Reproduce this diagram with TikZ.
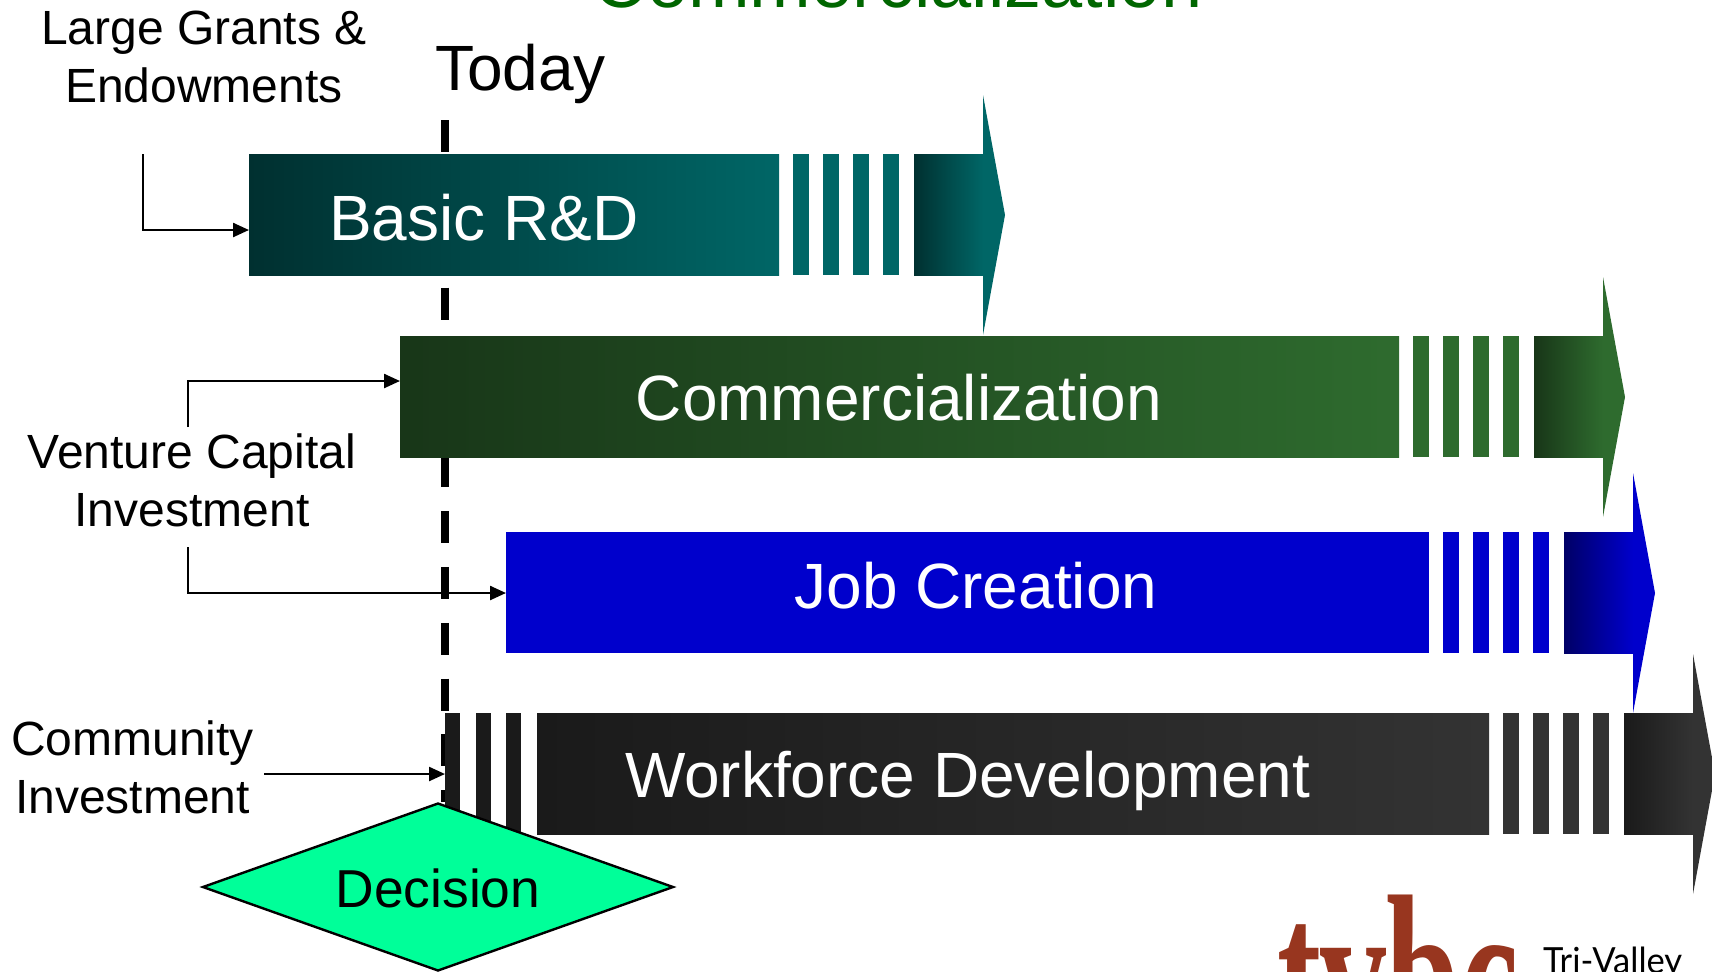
\documentclass[tikz,border=0pt]{standalone}
\usepackage{fontspec}
\setmainfont{Liberation Sans}
\newfontfamily\logoserif{Liberation Serif}
\newfontfamily\logosans{Lato}
\usetikzlibrary{arrows.meta,shapes.geometric,calc}
\definecolor{cTeal}{HTML}{006666}
\definecolor{cTealD}{HTML}{003030}
\definecolor{cGreen}{HTML}{2E6B2E}
\definecolor{cGreenD}{HTML}{183618}
\definecolor{cBlue}{HTML}{0000CC}
\definecolor{cBlueD}{HTML}{000066}
\definecolor{cGrey}{HTML}{333333}
\definecolor{cGreyD}{HTML}{1A1A1A}
\definecolor{cTitle}{HTML}{006600}
\definecolor{cDia}{HTML}{00FF99}
\definecolor{cLogo}{HTML}{98361F}
\tikzset{
  x=0.5pt,y=-0.5pt,
  boxpart/.style={anchor=north west,inner sep=0pt,outer sep=0pt,minimum height=60.6pt},
  stripebox/.style={boxpart,minimum width=8pt},
  shaftbox/.style={boxpart,minimum width=34.5pt},
  txt/.style={inner sep=0pt,outer sep=0pt,anchor=base,font=\fontsize{#1}{29}\selectfont},
  bartxt/.style={txt=32,text=white},
  lbl/.style={txt=24,text=black,align=center},
  conn/.style={black,line width=1.2pt,-{Triangle[length=8pt,width=7pt]}},
  todayline/.style={black,line width=4pt,dash pattern=on 16pt off 11.93pt}
}
\newcommand{\barend}[5]{%
  \foreach \k [count=\n] in {14,44,74,104}
    \node[stripebox,fill=#4] (#1s\n) at (#2+\k,#3) {};
  \node[shaftbox,left color=#5,right color=#4] (#1a) at (#2+135,#3) {};
  \fill[#4] (#2+204,#3-59) -- (#2+226,#3+61) -- (#2+204,#3+181) -- cycle;
}
\begin{document}
\begin{tikzpicture}
\useasboundingbox (0,0) rectangle (1712,971);
% title and today
\node[txt=37,text=cTitle] (title) at (898,7) {Commercialization};
\node[txt=32,anchor=base west] (today) at (435,90) {Today};
\coordinate (todayTop) at (445,120);
\coordinate (todayEnd) at (445,802);
% connector ends
\coordinate (lgStart) at (143,154);
\coordinate (lgTurn) at (143,230);
\coordinate (vcUp) at (188,427);
\coordinate (vcUpTurn) at (188,381);
\coordinate (vcDown) at (188,547);
\coordinate (vcDownTurn) at (188,593);
\coordinate (ciStart) at (264,774);
% anchors for the bars
\coordinate (bar1w) at (249,230);
\coordinate (bar2w) at (400,381);
\coordinate (bar3w) at (506,593);
% connectors and dashed line lie under the bars
\draw[conn] (lgStart) |- (bar1w);
\draw[conn] (vcUp) |- (bar2w);
\draw[conn] (vcDown) |- (bar3w);
\draw[todayline] (todayTop) -- (todayEnd);
% bars
\node[boxpart,minimum width=265pt,left color=cTealD,right color=cTeal] (bar1) at (249,154) {};
\node[boxpart,minimum width=499.5pt,left color=cGreenD,right color=cGreen] (bar2) at (400,336) {};
\node[boxpart,minimum width=461.5pt,fill=cBlue] (bar3) at (506,532) {};
\node[boxpart,minimum width=476pt,left color=cGreyD,right color=cGrey] (bar4) at (537,713) {};
\barend{r}{779}{154}{cTeal}{cTealD}
\barend{g}{1399}{336}{cGreen}{cGreenD}
\barend{b}{1429}{532}{cBlue}{cBlueD}
\barend{k}{1489}{713}{cGrey}{cGreyD}
% left stripes of the workforce bar
\foreach \x [count=\n] in {445,476,506}
  \node[stripebox,fill=cGreyD,minimum width=7.5pt] (ks\n l) at (\x,713) {};
\draw[conn] (ciStart) -- (ks1l.west |- ciStart);
% bar text
\node[bartxt] (t1) at (484,240) {Basic R\&D};
\node[bartxt] (t2) at (899,420) {Commercialization};
\node[bartxt] (t3) at (976,608) {Job Creation};
\node[bartxt,anchor=base west] (t4) at (625,797) {Workforce Development};
% labels
\node[lbl] (lg) at (204,102) {Large Grants \&\\Endowments};
\node[lbl] (vc) at (192,526) {Venture Capital\\Investment};
\node[lbl] (ci) at (132.5,813) {Community\\Investment};
% decision
\node[diamond,aspect=2.83,draw=black,line width=1.2pt,fill=cDia,inner sep=0pt,outer sep=0pt,minimum width=235pt,minimum height=83.5pt] (dec) at (438,887) {};
\node[txt=26.7] (dect) at (438,907) {Decision};
% logo
\node[inner sep=0pt,outer sep=0pt,anchor=base,text=cLogo,yscale=1.72,font=\logoserif\bfseries\fontsize{66}{66}\selectfont] (logo) at (1398,1052) {tvbc};
\node[inner sep=0pt,outer sep=0pt,anchor=base west,text=black,xscale=0.96,font=\logosans\fontsize{18}{18}\selectfont] (logot) at (1543,973) {Tri-Valley};
\end{tikzpicture}
\end{document}
